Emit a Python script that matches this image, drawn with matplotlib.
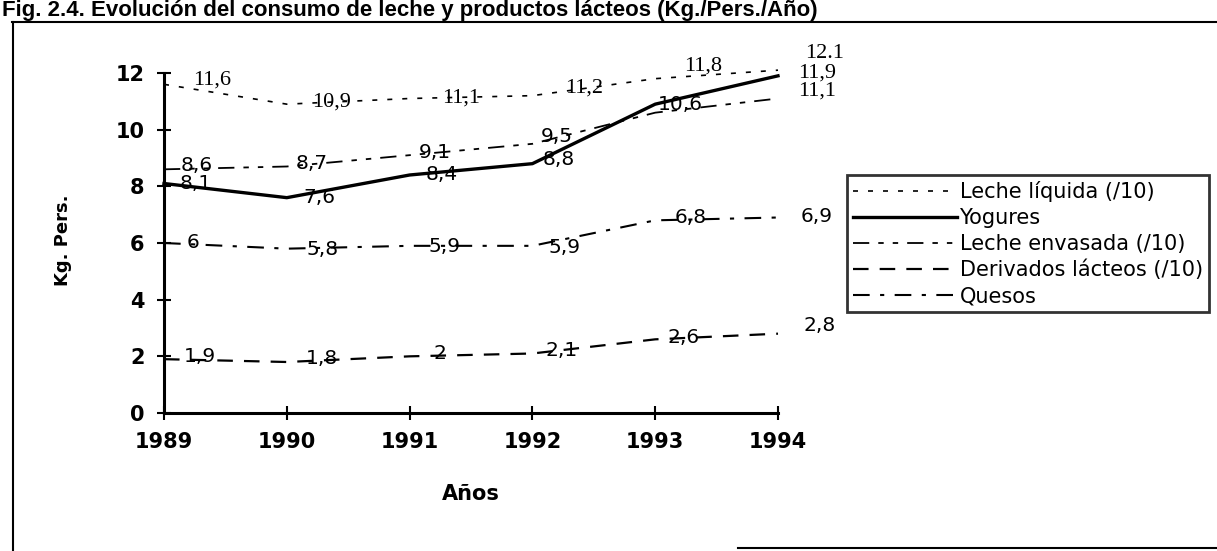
import matplotlib
matplotlib.use("Agg")
from matplotlib import pyplot as plt
from matplotlib.lines import Line2D

# datos
anios = [1989, 1990, 1991, 1992, 1993, 1994]
leche_liquida = [11.6, 10.9, 11.1, 11.2, 11.8, 12.1]   # /10
yogures = [8.1, 7.6, 8.4, 8.8, 10.9, 11.9]
leche_envasada = [8.6, 8.7, 9.1, 9.5, 10.6, 11.1]      # /10
derivados = [1.9, 1.8, 2.0, 2.1, 2.6, 2.8]             # /10
quesos = [6.0, 5.8, 5.9, 5.9, 6.8, 6.9]

# etiquetas de los puntos, tal como aparecen (None = sin etiqueta)
et_liquida = ["11,6", "10,9", "11,1", "11,2", "11,8", "12.1"]
et_yogures = ["8,1", "7,6", "8,4", "8,8", None, "11,9"]
et_envasada = ["8,6", "8,7", "9,1", "9,5", "10,6", "11,1"]
et_derivados = ["1,9", "1,8", "2", "2,1", "2,6", "2,8"]
et_quesos = ["6", "5,8", "5,9", "5,9", "6,8", "6,9"]

nombres = ["Leche líquida (/10)", "Yogures", "Leche envasada (/10)",
           "Derivados lácteos (/10)", "Quesos"]
xticks = [1989, 1990, 1991, 1992, 1993, 1994]
yticks = [0, 2, 4, 6, 8, 10, 12]

W, H = 1217, 551
fig = plt.figure(figsize=(W / 100, H / 100), dpi=100)
ax = fig.add_axes([164 / W, 1 - 413 / H, 614 / W, 340 / H])

series = [leche_liquida, yogures, leche_envasada, derivados, quesos]
etiquetas = [et_liquida, et_yogures, et_envasada, et_derivados, et_quesos]
estilos = [
    dict(lw=1.2, dashes=(3, 6)),
    dict(lw=2.4),
    dict(lw=1.3, dashes=(9, 5, 3, 5, 3, 5)),
    dict(lw=1.6, dashes=(7, 5)),
    dict(lw=1.5, dashes=(8, 5, 2, 5)),
]
# desplazamiento de las etiquetas en pixeles (dx, dy)
desp = [
    [(48, 4), (45, 2), (52, 0), (52, 8), (48, 13), (47, 17)],
    [(32, 0), (33, 0), (32, 0), (26, 4), (0, 0), (39, 3)],
    [(33, 4), (25, 3), (25, 3), (24, 7), (25, 8), (39, 7)],
    [(36, 3), (35, 4), (30, 3), (29, 3), (28, 2), (42, 8)],
    [(29, 0), (36, -1), (35, -1), (32, -2), (35, 3), (39, 1)],
]
fuente_serif = [True, False, False, False, False]

for vals, ets, est, ds, serif in zip(series, etiquetas, estilos, desp, fuente_serif):
    ax.plot(anios, vals, color="black", clip_on=False, **est)
    for i, (x, y, t) in enumerate(zip(anios, vals, ets)):
        if t is None:
            continue
        fam = "Liberation Serif" if (serif or i == 5 and y > 11) else "DejaVu Sans"
        size = 16 if fam == "Liberation Serif" else 14.5
        ax.annotate(t, (x, y), xytext=ds[i], textcoords="offset pixels",
                    ha="center", va="center", fontsize=size, family=fam,
                    annotation_clip=False)

ax.set_xlim(1989, 1994)
ax.set_ylim(0, 12)
ax.set_xticks(xticks)
ax.set_yticks(yticks)
ax.set_xticklabels([str(a) for a in xticks], fontsize=15, fontweight="bold")
ax.set_yticklabels([str(v) for v in yticks], fontsize=15, fontweight="bold")
ax.tick_params(direction="inout", length=10, width=1.5, pad=9)
for s in ["top", "right"]:
    ax.spines[s].set_visible(False)
for s in ["left", "bottom"]:
    ax.spines[s].set_linewidth(2.2)
ax.patch.set_alpha(0)

fig.text(63 / W, 1 - 240 / H, "Kg. Pers.", rotation=90, fontsize=13,
         fontweight="bold", ha="center", va="center")
fig.text(471 / W, 1 - 494 / H, "Años", fontsize=15, fontweight="bold",
         ha="center", va="center")

# titulo (cortado arriba en el original)
fig.text(2 / W, 1 - 16 / H, "Fig. 2.4. Evolución del consumo de leche y productos lácteos (Kg./Pers./Año)",
         fontsize=16, fontweight="bold", family="Liberation Sans",
         ha="left", va="baseline")

# marco exterior
fig.add_artist(Line2D([12 / W, 1], [1 - 22 / H, 1 - 22 / H], color="black", lw=1.5))
fig.add_artist(Line2D([13 / W, 13 / W], [0, 1 - 22 / H], color="black", lw=1.5))
fig.add_artist(Line2D([738 / W, 1], [1 - 548 / H, 1 - 548 / H], color="black", lw=1.5))

handles = [Line2D([], [], color="black", **e) for e in estilos]
leg = fig.legend(handles, nombres, loc="upper left",
                 bbox_to_anchor=(847 / W, 1 - 175 / H), fontsize=15,
                 handlelength=5.0, handletextpad=0.1, labelspacing=0.28,
                 borderpad=0.3, borderaxespad=0, fancybox=False)
leg.get_frame().set_edgecolor("black")
leg.get_frame().set_linewidth(2)

fig.savefig("out.png", dpi=100)
